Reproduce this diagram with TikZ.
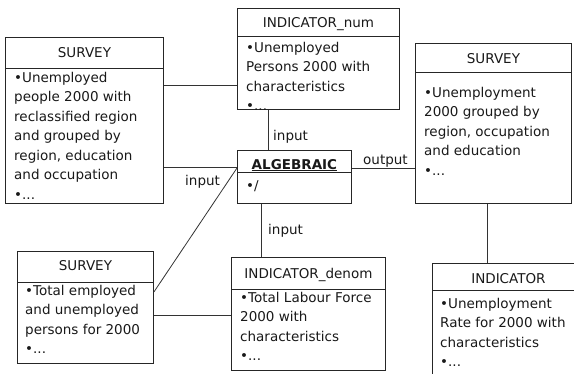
\documentclass[tikz,border=0pt]{standalone}
\usepackage{fontspec}
\setmainfont{DejaVu Sans}
\begin{document}
\begin{tikzpicture}[x=1pt,y=-1pt,
  box/.style={draw=black!85, line width=0.9pt, rectangle, inner sep=0pt, anchor=north west},
  sep/.style={draw=black!85, line width=0.9pt},
  link/.style={draw=black!80, line width=0.8pt},
  title/.style={anchor=base, inner sep=0pt, text=black!90, font=\fontsize{13.5}{16}\selectfont},
  body/.style={anchor=north west, inner sep=0pt, align=left, text=black!90,
               font=\fontsize{13.5}{19.5}\selectfont},
  lbl/.style={anchor=base west, inner sep=0pt, text=black!90, font=\fontsize{13.5}{16}\selectfont}]
\useasboundingbox (0,0) rectangle (574,373);
\clip (0,0) rectangle (574,373);
\fill[white] (0,0) rectangle (574,373);

% class boxes: outline, header rule, title, attribute list
\node[box, minimum width=158, minimum height=166] (sa) at (5,37) {};
\draw[sep] (sa.west |- 0,68) -- (sa.east |- 0,68);
\node[title] (sat) at (sa.north |- 0,57) {SURVEY};
\node[body] (sab) at (14,72) {•Unemployed\\people 2000 with\\reclassified region\\and grouped by\\region, education\\and occupation\\•...};

\node[box, minimum width=162, minimum height=101] (in) at (237,8) {};
\draw[sep] (in.west |- 0,36) -- (in.east |- 0,36);
\node[title] (int) at (in.north |- 0,27) {INDICATOR\_num};
\node[body] (inb) at (246,42) {•Unemployed\\Persons 2000 with\\characteristics\\•...};

\node[box, minimum width=114, minimum height=53] (al) at (237,150) {};
\draw[sep] (al.west |- 0,172) -- (al.east |- 0,172);
\node[title, font=\fontsize{13.5}{16}\selectfont\bfseries] (alt) at (al.north |- 0,169) {\underline{ALGEBRAIC}};
\node[body] (alb) at (246,180) {•/};

\node[box, minimum width=156, minimum height=160] (sd) at (415,43) {};
\draw[sep] (sd.west |- 0,72) -- (sd.east |- 0,72);
\node[title] (sdt) at (sd.north |- 0,63) {SURVEY};
\node[body] (sdb) at (424,87) {•Unemployment\\2000 grouped by\\region, occupation\\and education\\•...};

\node[box, minimum width=136, minimum height=112] (se) at (17,251) {};
\draw[sep] (se.west |- 0,282) -- (se.east |- 0,282);
\node[title] (set) at (se.north |- 0,270) {SURVEY};
\node[body] (seb) at (25,285) {•Total employed\\and unemployed\\persons for 2000\\•...};

\node[box, minimum width=154, minimum height=113] (id) at (231,257) {};
\draw[sep] (id.west |- 0,289) -- (id.east |- 0,289);
\node[title] (idt) at (id.north |- 0,278) {INDICATOR\_denom};
\node[body] (idb) at (240,292) {•Total Labour Force\\2000 with\\characteristics\\•...};

\node[box, minimum width=152, minimum height=140] (ig) at (432,263) {};
\draw[sep] (ig.west |- 0,290) -- (ig.east |- 0,290);
\node[title] (igt) at (ig.north |- 0,283) {INDICATOR};
\node[body] (igb) at (440,298) {•Unemployment\\Rate for 2000 with\\characteristics\\•...};

% connectors
\draw[link] (sa.east |- 0,85) -- (in.west |- 0,85);
\draw[link] (sa.east |- 0,167) -- (al.west |- 0,167);
\draw[link] (al.west |- 0,168) -- (se.east |- 0,292);
\draw[link] (se.east |- 0,315) -- (id.west |- 0,315);
\draw[link] (in.south -| 268,0) -- (al.north -| 268,0);
\draw[link] (al.south -| 261,0) -- (id.north -| 261,0);
\draw[link] (al.east |- 0,168) -- (sd.west |- 0,168);
\draw[link] (sd.south -| 487,0) -- (ig.north -| 487,0);

% connector labels
\node[lbl] (l1) at (273,140) {input};
\node[lbl] (l2) at (185,185) {input};
\node[lbl] (l3) at (363,164) {output};
\node[lbl] (l4) at (268,234) {input};
\end{tikzpicture}
\end{document}
